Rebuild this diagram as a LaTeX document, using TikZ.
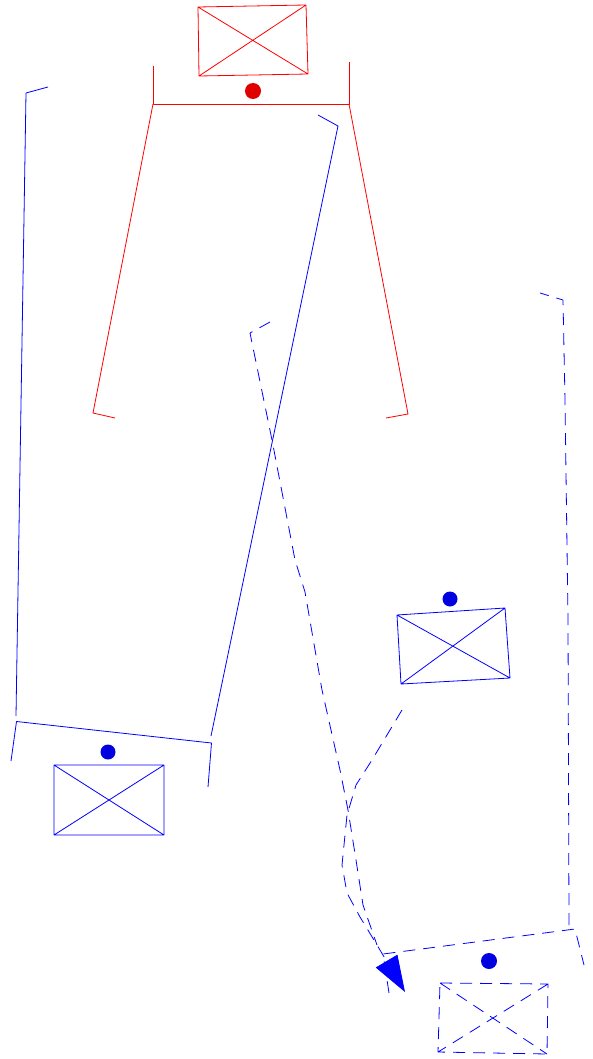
\documentclass[tikz,border=0pt]{standalone}
\usetikzlibrary{arrows.meta}
\begin{document}
\begin{tikzpicture}[x=1pt,y=-1pt,
  redln/.style={draw=red, line width=0.8pt},
  blueln/.style={draw=blue, line width=0.8pt},
  dashln/.style={draw=blue, line width=0.8pt, dash pattern=on 12pt off 8pt},
  reddot/.style={circle, fill={rgb,255:red,225;green,0;blue,0}, minimum size=16pt, inner sep=0pt},
  bluedot/.style={circle, fill={rgb,255:red,0;green,0;blue,225}, minimum size=15pt, inner sep=0pt},
  line join=round]
\useasboundingbox (0,0) rectangle (593,1059);

% ---------- red (top) ----------
\coordinate (ra) at (198,7);   \coordinate (rb) at (306,5);
\coordinate (rc) at (308,74);  \coordinate (rd) at (199,76);
\draw[redln] (ra)--(rb)--(rc)--(rd)--cycle (ra)--(rc) (rb)--(rd);
\node[reddot] (rdot) at (253,91) {};
\coordinate (rtl) at (153,104); \coordinate (rtr) at (349,104);
\draw[redln] (153,66)--(rtl)--(rtr)--(349,62);
\draw[redln] (rtl)--(93,413)--(115,418);
\draw[redln] (rtr)--(408,414)--(386,418);

% ---------- blue (left) ----------
\draw[blueln] (48,87)--(26,93)--(16,716);
\coordinate (btl) at (16.5,721.5); \coordinate (btr) at (211.5,743);
\draw[blueln] (11,761)--(btl)--(btr)--(208,787);
\draw[blueln] (318,115)--(338,126)--(211,736);
\coordinate (ba) at (54,765);  \coordinate (bb) at (164,765);
\coordinate (bc) at (164,835); \coordinate (bd) at (54,835);
\draw[blueln] (ba)--(bb)--(bc)--(bd)--cycle (ba)--(bc) (bb)--(bd);
\node[bluedot] (bdot) at (108,752) {};

% ---------- blue (middle) ----------
\coordinate (ma) at (397,615);  \coordinate (mb) at (505,608);
\coordinate (mc) at (510,678);  \coordinate (md) at (401,684);
\draw[blueln] (ma)--(mb)--(mc)--(md)--cycle (ma)--(mc) (mb)--(md);
\node[bluedot] (mdot) at (450,599) {};

% ---------- dashed (bottom right) ----------
\coordinate (da) at (440,983);  \coordinate (db) at (548,984);
\coordinate (dc) at (547,1054); \coordinate (dd) at (438,1052);
\draw[dashln] (da)--(db)--(dc)--(dd)--cycle (da)--(dc) (db)--(dd);
\node[bluedot, minimum size=16pt] (ddot) at (489,961) {};
\coordinate (dtl) at (383,954); \coordinate (dtr) at (575,929);
\draw[dashln] (389,993)--(dtl)--(dtr)--(584,965);
\draw[dashln] (569,925)--(568,620)--(565,400)--(563,300)--(540,293);

% ---------- movement paths ----------
\coordinate (astart) at (270,322);
\coordinate (aend) at (377,945);
\draw[dashln] (astart)--(250,333)--(272,440)--(295,560)--(305,592)--(322,690)
  --(340,770)--(348,810)--(356,860)--(363,905)--(aend);
\coordinate (bstart) at (402,710);
\coordinate (btip) at (405,992);
\draw[dashln, -{Triangle[length=36pt,width=25pt]}] (bstart)--(372,760)--(356,785)--(347,815)
  --(342,865)--(347,893)--(360,917)--(377,945)--(btip);
\end{tikzpicture}
\end{document}
